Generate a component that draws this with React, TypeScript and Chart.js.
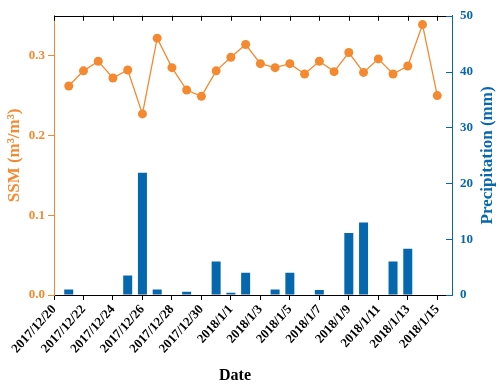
import React, { useEffect, useRef } from 'react';
import { Chart, registerables } from 'chart.js';

Chart.register(...registerables);

// ---- data ----
const dates = [
  '2017/12/21', '2017/12/22', '2017/12/23', '2017/12/24', '2017/12/25', '2017/12/26',
  '2017/12/27', '2017/12/28', '2017/12/29', '2017/12/30', '2017/12/31', '2018/1/1',
  '2018/1/2', '2018/1/3', '2018/1/4', '2018/1/5', '2018/1/6', '2018/1/7',
  '2018/1/8', '2018/1/9', '2018/1/10', '2018/1/11', '2018/1/12', '2018/1/13',
  '2018/1/14', '2018/1/15',
];

const ssm = [
  0.262, 0.281, 0.293, 0.272, 0.282, 0.227,
  0.322, 0.285, 0.257, 0.249, 0.281, 0.298,
  0.314, 0.290, 0.285, 0.290, 0.277, 0.293,
  0.280, 0.304, 0.279, 0.296, 0.277, 0.287,
  0.339, 0.250,
];

const precipitation = [
  1.0, 0, 0, 0, 3.5, 21.9,
  1.0, 0.1, 0.6, 0, 6.0, 0.4,
  4.0, 0, 1.0, 4.0, 0, 0.9,
  0, 11.1, 13.0, 0, 6.0, 8.3,
  0, 0,
];

const xTickLabels = [
  '2017/12/20', '2017/12/22', '2017/12/24', '2017/12/26', '2017/12/28', '2017/12/30',
  '2018/1/1', '2018/1/3', '2018/1/5', '2018/1/7', '2018/1/9', '2018/1/11',
  '2018/1/13', '2018/1/15',
];

const axisStart = '2017/12/20';
const axisEnd = '2018/1/16';
const ssmRange = [0, 0.35];
const precipRange = [0, 50];

const ORANGE = '#F5892F';
const BLUE = '#0568AF';
const FONT = "'Liberation Serif', 'Times New Roman', serif";

function toUTC(s: string): number {
  const [y, m, d] = s.split('/').map(Number);
  return Date.UTC(y, m - 1, d);
}
function dayOffset(s: string): number {
  return Math.round((toUTC(s) - toUTC(axisStart)) / 86400000);
}

const framePlugin = {
  id: 'frameAndTitles',
  afterDraw(chart: any) {
    const { ctx, chartArea } = chart;
    const { left, right, top, bottom } = chartArea;
    const px = (v: number) => Math.round(v) + 0.5;
    ctx.save();
    // top border + inward ticks
    ctx.lineWidth = 1;
    ctx.strokeStyle = '#000';
    ctx.beginPath();
    ctx.moveTo(left, px(top));
    ctx.lineTo(right, px(top));
    const xs = chart.scales.x;
    xs.ticks.forEach((t: any) => {
      const x = px(xs.getPixelForValue(t.value));
      ctx.moveTo(x, top);
      ctx.lineTo(x, top + 5);
    });
    ctx.stroke();
    // right inward ticks
    const ys = chart.scales.y1;
    ctx.strokeStyle = BLUE;
    ctx.beginPath();
    ys.ticks.forEach((t: any) => {
      const y = px(ys.getPixelForValue(t.value));
      ctx.moveTo(right, y);
      ctx.lineTo(right - 6, y);
    });
    ctx.stroke();

    const midY = (top + bottom) / 2;
    ctx.textAlign = 'center';
    ctx.textBaseline = 'middle';
    // left title
    ctx.font = `bold 17px ${FONT}`;
    ctx.fillStyle = ORANGE;
    ctx.save();
    ctx.translate(15, midY);
    ctx.rotate(-Math.PI / 2);
    ctx.fillText('SSM (m\u00B3/m\u00B3)', 0, 0);
    ctx.restore();
    // right title
    ctx.fillStyle = BLUE;
    ctx.save();
    ctx.translate(right + 36, midY);
    ctx.rotate(-Math.PI / 2);
    ctx.fillText('Precipitation (mm)', 0, 0);
    ctx.restore();
    // x title
    ctx.font = `bold 16px ${FONT}`;
    ctx.fillStyle = '#000';
    ctx.fillText('Date', left + 181, bottom + 81);
    ctx.restore();
  },
};

export default function App() {
  const canvasRef = useRef<HTMLCanvasElement | null>(null);

  useEffect(() => {
    if (!canvasRef.current) return;
    const tickFont = { family: FONT, size: 13, weight: 'bold' as const };
    const chart = new Chart(canvasRef.current, {
      type: 'bar',
      data: {
        datasets: [
          {
            type: 'line',
            label: 'SSM',
            data: dates.map((d, i) => ({ x: dayOffset(d), y: ssm[i] })),
            yAxisID: 'y',
            borderColor: ORANGE,
            backgroundColor: ORANGE,
            borderWidth: 1.3,
            pointRadius: 4.5,
            pointBorderWidth: 0,
            pointBackgroundColor: ORANGE,
            tension: 0,
            order: 0,
          } as any,
          {
            type: 'bar',
            label: 'Precipitation',
            data: dates.map((d, i) => ({ x: dayOffset(d), y: precipitation[i] })),
            yAxisID: 'y1',
            backgroundColor: BLUE,
            borderWidth: 0,
            categoryPercentage: 1,
            barPercentage: 0.61,
            order: 1,
          } as any,
        ],
      },
      options: {
        animation: false,
        responsive: true,
        maintainAspectRatio: false,
        layout: { padding: { top: 9, left: 0, right: 0, bottom: 0 } },
        plugins: { legend: { display: false }, tooltip: { enabled: false } },
        scales: {
          x: {
            type: 'linear',
            min: 0,
            max: dayOffset(axisEnd),
            offset: false,
            ticks: {
              stepSize: 2,
              includeBounds: false,
              autoSkip: false,
              minRotation: 48,
              maxRotation: 48,
              padding: 2,
              color: '#000',
              font: tickFont,
              callback: (_v: any, i: number) => xTickLabels[i] ?? '',
            } as any,
            grid: { drawOnChartArea: false, offset: false, tickLength: 5, color: '#000' },
            border: { color: '#000', width: 1 },
            afterFit: (s: any) => { s.height = 91; },
          },
          y: {
            position: 'left',
            min: ssmRange[0],
            max: ssmRange[1],
            ticks: {
              stepSize: 0.1,
              includeBounds: false,
              color: ORANGE,
              font: tickFont,
              padding: 3,
              callback: (v: any) => Number(v).toFixed(1),
            } as any,
            grid: { drawOnChartArea: false, tickLength: 6, color: ORANGE },
            border: { color: ORANGE, width: 1 },
            afterFit: (s: any) => { s.width = 54; },
          },
          y1: {
            position: 'right',
            min: precipRange[0],
            max: precipRange[1],
            ticks: {
              stepSize: 10,
              includeBounds: false,
              color: BLUE,
              font: tickFont,
              padding: 8,
            } as any,
            grid: { drawOnChartArea: false, drawTicks: false, color: BLUE },
            border: { color: BLUE, width: 1 },
            afterFit: (s: any) => { s.width = 48; },
          },
        },
      },
      plugins: [framePlugin],
    });
    return () => chart.destroy();
  }, []);

  return (
    <div style={{ position: 'fixed', left: 0, top: 0, width: 500, height: 386, background: '#fff' }}>
      <canvas ref={canvasRef} />
    </div>
  );
}
